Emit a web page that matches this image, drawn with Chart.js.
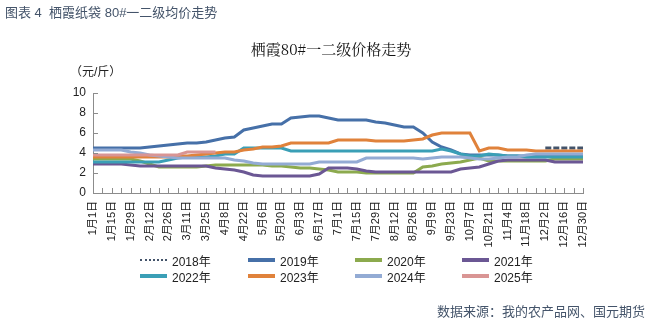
<!DOCTYPE html>
<html>
<head>
<meta charset="utf-8">
<script src="https://cdn.jsdelivr.net/npm/chart.js@4.4.1/dist/chart.umd.min.js"></script>
<style>
  html, body { margin: 0; padding: 0; background: #fff; }
  #wrap { position: relative; width: 651px; height: 324px; overflow: hidden;
          font-family: "Liberation Sans", "Noto Sans CJK SC", sans-serif; }
  #c { position: absolute; left: 0; top: 0; }
  .txt { position: absolute; white-space: nowrap; line-height: 1; }
  #figTitle { left: 5px; top: 6px; font-size: 13px; color: #44546a; }
  #chartTitle { left: 0; width: 662px; text-align: center; top: 41px; font-size: 15px; color: #111;
                font-family: "Noto Serif CJK SC", "Noto Sans CJK SC", serif; }
  #unit { left: 70px; top: 66px; font-size: 12px; color: #222; }
  #source { right: 6px; top: 305px; font-size: 13px; color: #44546a; }
  .leg { position: absolute; display: flex; align-items: center; font-size: 12px; color: #222; height: 14px; }
  .leg .mark { width: 27px; height: 0; margin-right: 5px; }
</style>
</head>
<body>
<div id="wrap">
  <canvas id="c" width="651" height="324"></canvas>
  <div class="txt" id="figTitle">图表 4&nbsp; 栖霞纸袋 80#一二级均价走势</div>
  <div class="txt" id="chartTitle">栖霞80#一二级价格走势</div>
  <div class="txt" id="unit">（元/斤）</div>
  <div class="txt" id="source">数据来源：我的农产品网、国元期货</div>
  <div id="legend"></div>
</div>
<script>
// weekly dates, a label is shown on every second one
const weeks = [
  '1月1日', '1月8日', '1月15日', '1月22日', '1月29日', '2月5日', '2月12日', '2月19日', '2月26日',
  '3月4日', '3月11日', '3月18日', '3月25日', '4月1日', '4月8日', '4月15日', '4月22日', '4月29日',
  '5月6日', '5月13日', '5月20日', '5月27日', '6月3日', '6月10日', '6月17日', '6月24日', '7月1日',
  '7月8日', '7月15日', '7月22日', '7月29日', '8月5日', '8月12日', '8月19日', '8月26日', '9月2日',
  '9月9日', '9月16日', '9月23日', '9月30日', '10月7日', '10月14日', '10月21日', '10月28日', '11月4日',
  '11月11日', '11月18日', '11月25日', '12月2日', '12月9日', '12月16日', '12月23日', '12月30日'
];

const yearNames = ['2018年', '2019年', '2020年', '2021年', '2022年', '2023年', '2024年', '2025年'];
const yearColors = ['#44546a', '#4670a8', '#8caa4e', '#6b5794', '#3a9fb6', '#e0823b', '#93abd4', '#d99594'];

const N = null;
const y2018 = [N, N, N, N, N, N, N, N, N, N, N, N, N, N, N, N, N, N, N, N, N, N, N, N, N, N, N,
  N, N, N, N, N, N, N, N, N, N, N, N, N, N, N, N, N, N, N, N, N, 4.5, 4.5, 4.5, 4.5, 4.5];
const y2019 = [4.5, 4.5, 4.5, 4.5, 4.5, 4.5, 4.6, 4.7, 4.8, 4.9, 5.0, 5.0, 5.1, 5.3, 5.5, 5.6, 6.3, 6.5,
  6.7, 6.9, 6.9, 7.5, 7.6, 7.7, 7.7, 7.5, 7.3, 7.3, 7.3, 7.3, 7.1, 7.0, 6.8, 6.6, 6.6, 6.0, 5.1,
  4.6, 4.3, 3.9, 3.8, 3.8, 3.8, 3.8, 3.7, 3.7, 3.7, 3.7, 3.7, 3.7, 3.7, 3.7, 3.7];
const y2020 = [3.4, 3.4, 3.4, 3.4, 3.4, 3.2, 2.9, 2.6, 2.6, 2.6, 2.6, 2.6, 2.7, 2.8, 2.8, 2.8, 2.8, 2.8,
  2.8, 2.7, 2.7, 2.6, 2.5, 2.5, 2.4, 2.3, 2.1, 2.1, 2.1, 2.0, 2.0, 2.0, 2.0, 2.0, 2.0, 2.6, 2.7,
  2.9, 3.0, 3.1, 3.3, 3.5, 3.2, 3.2, 3.2, 3.2, 3.2, 3.2, 3.2, 3.4, 3.4, 3.4, 3.4];
const y2021 = [2.9, 2.9, 2.9, 2.9, 2.8, 2.7, 2.7, 2.7, 2.7, 2.7, 2.7, 2.7, 2.7, 2.5, 2.4, 2.3, 2.1, 1.8,
  1.7, 1.7, 1.7, 1.7, 1.7, 1.7, 1.9, 2.5, 2.5, 2.5, 2.4, 2.2, 2.1, 2.1, 2.1, 2.1, 2.1, 2.1, 2.1,
  2.1, 2.1, 2.4, 2.5, 2.6, 2.9, 3.2, 3.3, 3.3, 3.3, 3.3, 3.3, 3.1, 3.1, 3.1, 3.1];
const y2022 = [3.1, 3.1, 3.1, 3.1, 3.1, 3.1, 3.1, 3.1, 3.3, 3.5, 3.6, 3.6, 3.6, 3.7, 3.9, 3.9, 4.5, 4.5,
  4.5, 4.5, 4.5, 4.2, 4.2, 4.2, 4.2, 4.2, 4.2, 4.2, 4.2, 4.2, 4.2, 4.2, 4.2, 4.2, 4.2, 4.2, 4.2,
  4.4, 4.2, 3.9, 3.7, 3.7, 3.9, 3.8, 3.7, 3.7, 3.6, 3.6, 3.6, 3.6, 3.6, 3.6, 3.6];
const y2023 = [3.6, 3.6, 3.6, 3.6, 3.6, 3.6, 3.6, 3.6, 3.6, 3.7, 3.7, 3.8, 3.9, 4.0, 4.1, 4.1, 4.3, 4.4,
  4.6, 4.6, 4.7, 5.0, 5.0, 5.0, 5.0, 5.0, 5.3, 5.3, 5.3, 5.3, 5.2, 5.2, 5.2, 5.2, 5.3, 5.4, 5.8,
  6.0, 6.0, 6.0, 6.0, 4.2, 4.5, 4.5, 4.3, 4.3, 4.3, 4.2, 4.2, 4.2, 4.2, 4.2, 4.2];
const y2024 = [4.3, 4.3, 4.3, 4.3, 4.1, 4.0, 3.8, 3.7, 3.6, 3.5, 3.5, 3.5, 3.5, 3.5, 3.5, 3.3, 3.2, 3.0,
  2.9, 2.9, 2.9, 2.9, 2.9, 2.9, 3.1, 3.1, 3.1, 3.1, 3.1, 3.5, 3.5, 3.5, 3.5, 3.5, 3.5, 3.4, 3.5,
  3.6, 3.6, 3.6, 3.5, 3.4, 3.4, 3.5, 3.6, 3.6, 3.8, 3.9, 3.9, 3.9, 3.9, 3.9, 3.9];
const y2025 = [3.8, 3.8, 3.8, 3.8, 3.8, 3.8, 3.8, 3.8, 3.8, 3.8, 4.1, 4.1, 4.1, 4.1];

const yTicks = [0, 2, 4, 6, 8, 10];

const series = [y2018, y2019, y2020, y2021, y2022, y2023, y2024, y2025];

const axisColor = '#8c8c8c';
const fontFamily = '"Liberation Sans", "Noto Sans CJK SC", sans-serif';

// small tick marks pointing into the plot, as in the original
const innerTicks = {
  id: 'innerTicks',
  afterDraw(chart) {
    const { ctx, chartArea, scales } = chart;
    ctx.save();
    ctx.strokeStyle = axisColor;
    ctx.lineWidth = 1;
    ctx.beginPath();
    scales.x.ticks.forEach((t, i) => {
      const px = Math.round(scales.x.getPixelForTick(i)) + 0.5;
      ctx.moveTo(px, chartArea.bottom);
      ctx.lineTo(px, chartArea.bottom - 5);
    });
    scales.y.ticks.forEach((t, i) => {
      const py = Math.round(scales.y.getPixelForTick(i)) + 0.5;
      ctx.moveTo(chartArea.left, py);
      ctx.lineTo(chartArea.left + 5, py);
    });
    ctx.stroke();
    ctx.restore();
  }
};

const datasets = series.map((data, i) => ({
  label: yearNames[i],
  data: data,
  borderColor: yearColors[i],
  backgroundColor: yearColors[i],
  borderWidth: 3,
  borderDash: i === 0 ? [6, 2] : [],
  pointRadius: 0,
  tension: 0,
  spanGaps: false,
  order: series.length - i
}));

new Chart(document.getElementById('c'), {
  type: 'line',
  data: { labels: weeks, datasets },
  plugins: [innerTicks],
  options: {
    responsive: false,
    animation: false,
    devicePixelRatio: 1,
    layout: { padding: { left: 0, right: 68, top: 93, bottom: 61 } },
    plugins: { legend: { display: false }, tooltip: { enabled: false } },
    scales: {
      x: {
        offset: false,
        afterFit(scale) { scale.height = 70; },
        grid: { display: false, drawTicks: false },
        border: { display: true, color: axisColor, width: 1 },
        ticks: {
          autoSkip: false,
          minRotation: 90,
          maxRotation: 90,
          padding: 8,
          color: '#222',
          font: { family: fontFamily, size: 11 },
          callback(value, index) { return index % 2 === 0 ? weeks[index] : ''; }
        }
      },
      y: {
        min: 0,
        max: 10,
        afterFit(scale) { scale.width = 93; },
        afterBuildTicks(scale) { scale.ticks = yTicks.map(v => ({ value: v })); },
        grid: { display: false, drawTicks: false },
        border: { display: true, color: axisColor, width: 1 },
        ticks: {
          padding: 7,
          color: '#222',
          font: { family: fontFamily, size: 12 }
        }
      }
    }
  }
});

// legend, two rows of four
const legend = document.getElementById('legend');
const legCols = [140, 248, 355, 462];
const legRows = [253, 269];
yearNames.forEach((name, i) => {
  const item = document.createElement('div');
  item.className = 'leg';
  item.style.left = legCols[i % 4] + 'px';
  item.style.top = legRows[Math.floor(i / 4)] + 'px';
  const mark = document.createElement('span');
  mark.className = 'mark';
  mark.style.borderTop = i === 0 ? '2px dotted ' + yearColors[i] : '4px solid ' + yearColors[i];
  item.appendChild(mark);
  item.appendChild(document.createTextNode(name));
  legend.appendChild(item);
});
</script>
</body>
</html>
